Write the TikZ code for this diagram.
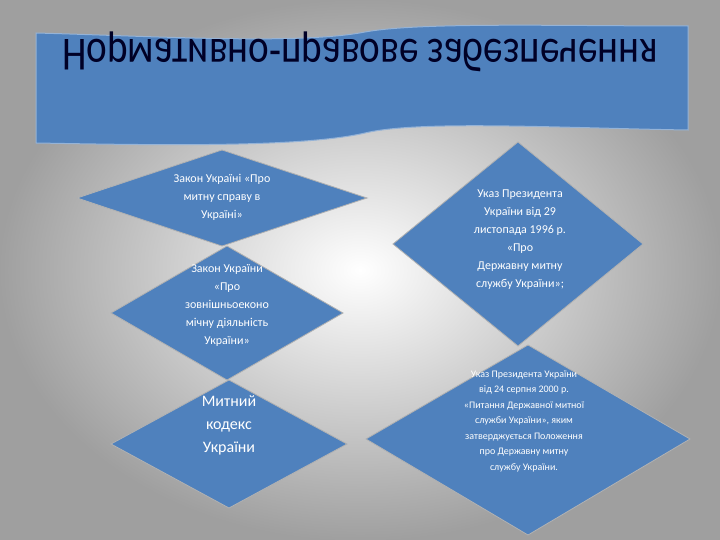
\documentclass[tikz,border=0pt]{standalone}
\usepackage{fontspec}
\setmainfont{Carlito}
\begin{document}
\begin{tikzpicture}[x=1pt,y=-1pt,
  dia/.style={fill=blueA,draw=gray!60,line width=0.8pt},
  dtext/.style={text=white,align=center,font=\fontsize{12}{18}\selectfont,inner sep=0pt}]
\definecolor{blueA}{HTML}{4F81BD}
\useasboundingbox (0,0) rectangle (720,540);
\shade[inner color=white,outer color=gray!75] (0,0) rectangle (720,540);
% banner
\draw[fill=blueA,draw=blueA!60!white,line width=1pt] (36,33) .. controls (150,36) and (300,45) .. (365,32)
  .. controls (420,22) and (560,26) .. (688,26) -- (688,130)
  .. controls (560,128) and (420,120) .. (365,133)
  .. controls (300,148) and (150,145) .. (36,143) -- cycle;
\node[text=black!85!blue,font=\fontsize{38}{40}\selectfont,inner sep=0pt,xscale=1.03,yscale=-1.25] (title) at (360,52) {Нормативно-правове забезпечення};
% diamonds
\draw[dia] (222,150) -- (367,198) -- (222,246) -- (77,198) -- cycle;
\draw[dia] (227,246) -- (343,313) -- (227,380) -- (111,313) -- cycle;
\draw[dia] (229,380) -- (347,444) -- (229,508) -- (111,444) -- cycle;
\draw[dia] (518,142) -- (643,244) -- (518,346) -- (393,244) -- cycle;
\draw[dia] (528,345) -- (690,439) -- (528,535) -- (366,439) -- cycle;
\node[dtext] (d1) at (222,197) {Закон Україні «Про\\ митну справу в\\ Україні»};
\node[dtext] (d2) at (227,305) {Закон України\\ «Про\\ зовнішньоеконо\\ мічну діяльність\\ України»};
\node[dtext,font=\fontsize{16}{23}\selectfont] (d3) at (229,425) {Митний\\ кодекс\\ України};
\node[dtext] (d4) at (520,240) {Указ Президента\\ України від 29\\ листопада 1996 р.\\ «Про\\ Державну митну\\ службу України»;};
\node[dtext,font=\fontsize{10}{15.5}\selectfont] (d5) at (524,421) {Указ Президента України\\ від 24 серпня 2000 р.\\ «Питання Державної митної\\ служби України», яким\\ затверджується Положення\\ про Державну митну\\ службу України.};
\end{tikzpicture}
\end{document}
